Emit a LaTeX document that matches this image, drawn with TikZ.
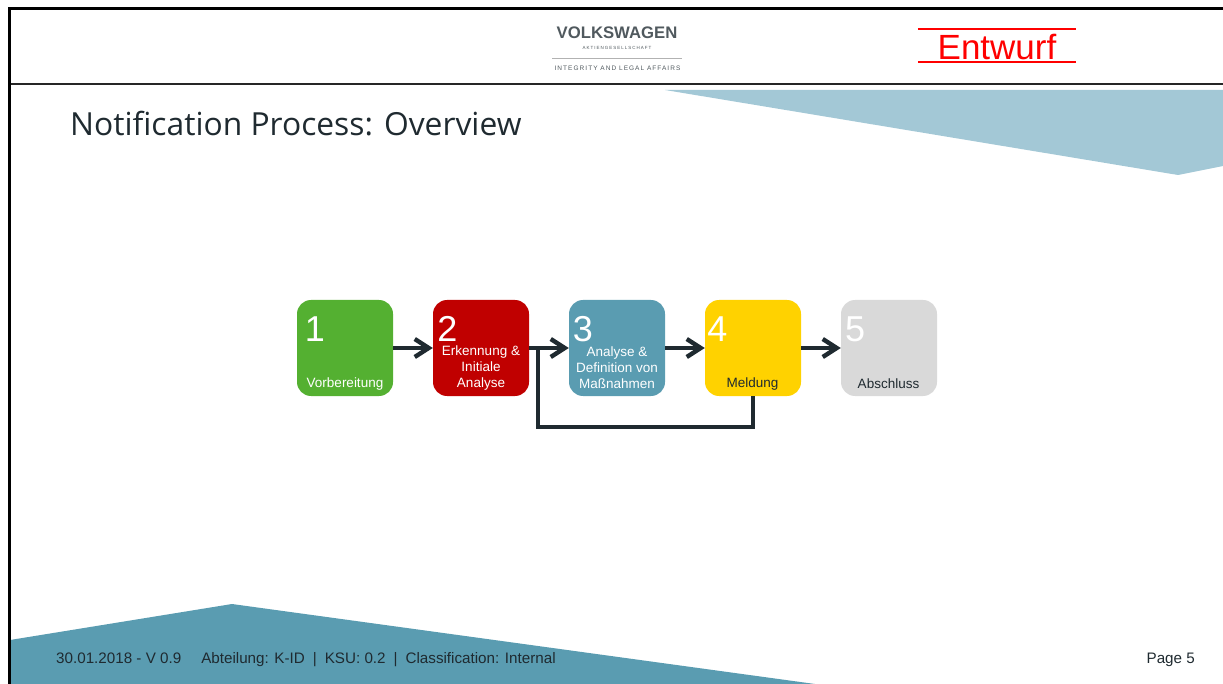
\documentclass[tikz,border=0pt]{standalone}
\usepackage{fontspec}
\setmainfont{Liberation Sans}
\newfontfamily\titlefont{Open Sans}
\usepackage{tikz}
\usetikzlibrary{calc,positioning,arrows.meta}
\definecolor{vwgreen}{HTML}{54B031}
\definecolor{vwred}{HTML}{C00000}
\definecolor{vwteal}{HTML}{5A9CB1}
\definecolor{vwpale}{HTML}{A3C8D6}
\definecolor{vwyellow}{HTML}{FFD200}
\definecolor{vwgrey}{HTML}{D9D9D9}
\definecolor{vwdark}{HTML}{1F2A30}
\definecolor{vwlogo}{HTML}{50595E}

\begin{document}
\begin{tikzpicture}[
  x=1pt,y=-1pt,
  node distance=39.6pt,
  stepbox/.style={rectangle,rounded corners=14pt,minimum size=96pt,inner sep=0pt},
  stepnum/.style={text=white,font=\fontsize{36}{36}\selectfont,inner sep=0pt},
  steptext/.style={align=center,font=\fontsize{13.5}{16}\selectfont,inner sep=0pt},
  every edge/.style={draw=vwdark,line width=3.8pt,-{Straight Barb[length=14pt,width=18pt,line width=4.4pt]}},
  frameline/.style={line width=2.6pt,black},
  footer/.style={text=vwdark,font=\fontsize{15.2}{15}\selectfont,inner sep=0pt},
]
  \useasboundingbox (0,0) rectangle (1223,684);

  % Background wedges
  \fill[vwpale] (665,90) -- (1223,90) -- (1223,166) -- (1178,175) -- cycle;
  \fill[vwteal] (10,640) -- (232,604) -- (815,684) -- (10,684) -- cycle;

  % Frame
  \draw[frameline] (8,8.7) -- (1223,8.7);
  \draw[line width=2.2pt,black!85] (8,84) -- (1223,84);
  \draw[frameline] (9.5,7.4) -- (9.5,684);

  % Header
  \node[text=vwlogo,font=\bfseries\fontsize{16.7}{17}\selectfont,inner sep=0pt] (vw) at (617,33) {VOLKSWAGEN};
  \node[text=vwlogo,font=\addfontfeature{LetterSpace=22}\fontsize{4.5}{5}\selectfont,inner sep=0pt] (ag) at (617,48) {AKTIENGESELLSCHAFT};
  \node[text=vwlogo,font=\addfontfeature{LetterSpace=16}\fontsize{6.5}{7}\selectfont,inner sep=0pt] (legal) at (617.5,68) {INTEGRITY AND LEGAL AFFAIRS};
  \draw[black!30,line width=0.8pt] (552,58.5) -- (682,58.5);
  \node[text=red,font=\fontsize{35}{35}\selectfont,minimum width=158pt,minimum height=33.5pt,inner sep=0pt,text height=28.6pt,text depth=0pt] (entwurf) at (997,45.5) {Entwurf};
  \draw[red,line width=2pt] (entwurf.north west) -- (entwurf.north east);
  \draw[red,line width=2pt] (entwurf.south west) -- (entwurf.south east);

  % Title
  \node[anchor=west,text=vwdark,font=\titlefont\fontsize{31.8}{32}\selectfont,inner sep=0pt] (title) at (70,124) {Notification Process: Overview};

  % Process steps
  \node[stepbox,fill=vwgreen] (vorb) at (345,348) {};
  \node[stepbox,fill=vwred,right=of vorb] (erk) {};
  \node[stepbox,fill=vwteal,right=of erk] (ana) {};
  \node[stepbox,fill=vwyellow,right=of ana] (meld) {};
  \node[stepbox,fill=vwgrey,right=of meld] (absch) {};

  % Step numbers
  \node[stepnum] (n1) at (315,329) {1};
  \node[stepnum] (n2) at (447.5,329) {2};
  \node[stepnum] (n3) at (583,329) {3};
  \node[stepnum] (n4) at (717.5,329) {4};
  \node[stepnum] (n5) at (855,329) {5};

  % Step labels
  \node[steptext,text=white] (t1) at (345,384) {Vorbereitung};
  \node[steptext,text=white] (t2) at (481,368) {Erkennung \&\\Initiale\\Analyse};
  \node[steptext,text=white] (t3) at (617,368) {Analyse \&\\Definition von\\Maßnahmen};
  \node[steptext,text=vwdark] (t4) at (752.5,384) {Meldung};
  \node[steptext,text=vwdark] (t5) at (888.5,384) {Abschluss};

  % Feedback line
  \coordinate[right=9pt of erk] (join);
  \coordinate (low) at (meld.south |- 0,427);
  \draw[draw=vwdark,line width=3.6pt,line join=miter] (meld.south) -- (low) -- (low -| join) -- (join);

  % Edges
  \path (vorb) edge (erk);
  \path (erk) edge (ana);
  \path (ana) edge (meld);
  \path (meld) edge (absch);

  % Footer
  \node[footer,anchor=west] (foot) at (56,660) {30.01.2018 - V 0.9\hspace{20pt}Abteilung: K-ID\hspace{8pt}|\hspace{8pt}KSU: 0.2\hspace{8pt}|\hspace{8pt}Classification: Internal};
  \node[footer,anchor=east] (page) at (1195,660) {Page 5};
\end{tikzpicture}
\end{document}
